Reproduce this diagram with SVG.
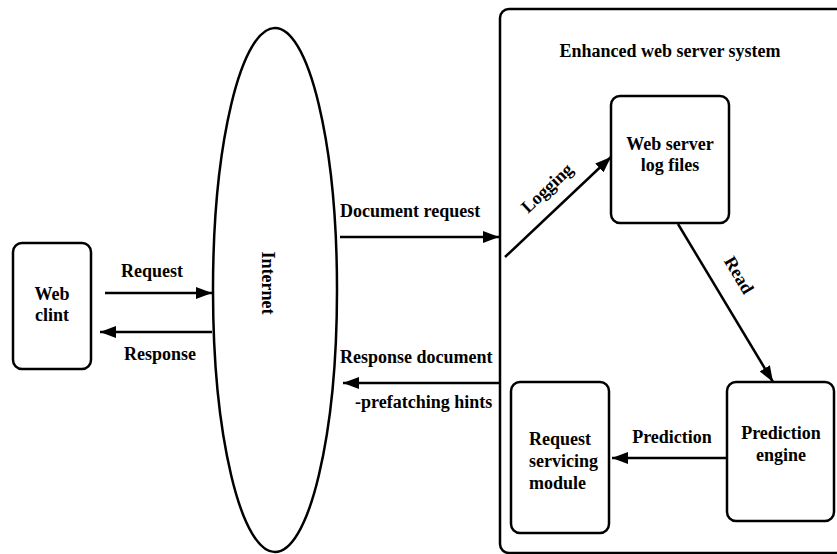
<svg xmlns="http://www.w3.org/2000/svg" width="837" height="554" viewBox="0 0 837 554">
<defs>
<marker id="ah" viewBox="0 0 16 12" refX="16" refY="6" markerWidth="16" markerHeight="12" markerUnits="userSpaceOnUse" orient="auto">
<path d="M0,0 L16,6 L0,12 z" fill="#000"/>
</marker>
</defs>
<style>
.box{fill:#fff;stroke:#000;stroke-width:2.5}
text{font-family:'Liberation Serif','Times New Roman',Times,serif;font-size:18px;font-weight:bold;fill:#000}
.c{text-anchor:middle}
.ln{stroke:#000;stroke-width:2.5;fill:none;marker-end:url(#ah)}
</style>
<rect width="837" height="554" fill="#fff"/>
<g font-family="Liberation Serif, Times New Roman, serif">
<g id="system">
<rect class="box" x="500" y="9" width="350" height="544" rx="9"/>
<text class="c" x="670" y="57">Enhanced web server system</text>
</g>
<g id="webclient">
<rect class="box" x="13" y="243" width="78" height="126" rx="9"/>
<text class="c" x="52" y="300">Web</text>
<text class="c" x="52" y="321">clint</text>
</g>
<g id="internet">
<ellipse class="box" cx="275" cy="290" rx="62" ry="262"/>
<text class="c" transform="translate(268,283) rotate(90)" x="0" y="6">Internet</text>
</g>
<g id="logfiles">
<rect class="box" x="611" y="96" width="118" height="127" rx="9"/>
<text class="c" x="670" y="150">Web server</text>
<text class="c" x="670" y="171">log files</text>
</g>
<g id="engine">
<rect class="box" x="727" y="382" width="107" height="139" rx="9"/>
<text class="c" x="781" y="439">Prediction</text>
<text class="c" x="781" y="461">engine</text>
</g>
<g id="servicing">
<rect class="box" x="511" y="382" width="98" height="151" rx="9"/>
<text x="529" y="445">Request</text>
<text x="529" y="467">servicing</text>
<text x="529" y="489">module</text>
</g>
<g id="connectors">
<line class="ln" x1="105" y1="293" x2="212" y2="293"/>
<text class="c" x="152" y="277">Request</text>
<line class="ln" x1="212" y1="332" x2="100" y2="332"/>
<text class="c" x="160" y="360">Response</text>
<line class="ln" x1="340" y1="237" x2="499" y2="237"/>
<text x="340" y="217">Document request</text>
<line class="ln" x1="505" y1="257" x2="611" y2="157"/>
<text class="c" transform="translate(547,188) rotate(-43)" x="0" y="6">Logging</text>
<line class="ln" x1="678" y1="224" x2="773" y2="382"/>
<text class="c" transform="translate(739,275) rotate(59)" x="0" y="6">Read</text>
<line class="ln" x1="727" y1="458" x2="612" y2="458"/>
<text class="c" x="672" y="443">Prediction</text>
<line class="ln" x1="500" y1="383" x2="343" y2="383"/>
<text x="340" y="363">Response document</text>
<text x="355" y="408">-prefatching hints</text>
</g>
</g>
</svg>
